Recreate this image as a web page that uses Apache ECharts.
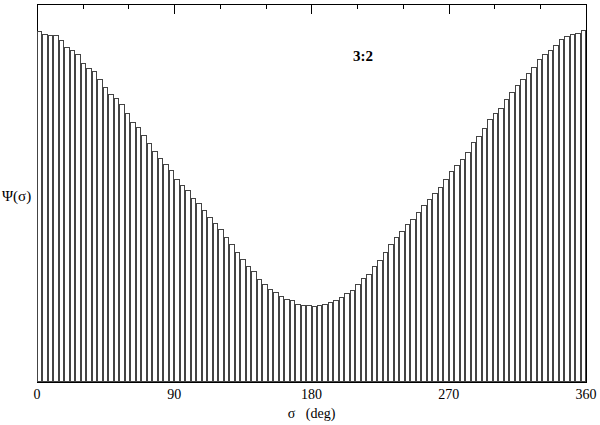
<!DOCTYPE html>
<html>
<head>
<meta charset="utf-8">
<script src="https://cdn.jsdelivr.net/npm/echarts@6/dist/echarts.min.js"></script>
<style>
  html, body { margin: 0; padding: 0; background: #fff; }
  #chart { width: 600px; height: 425px; }
  #chart svg path { shape-rendering: crispEdges; }
</style>
</head>
<body>
<div id="chart"></div>
<script>
// 100 bins of 3.6 deg over 0..360
const binWidth = 3.6
// Psi(sigma) per bin, arbitrary units
const psi = [
  357, 354, 353, 353, 347, 340, 337, 333, 324, 319,
  316, 308, 300, 293, 289, 282, 273, 264, 259, 251,
  243, 235, 228, 221, 215, 206, 200, 195, 187, 182,
  175, 168, 162, 155, 147, 140, 132, 125, 118, 113,
  105, 100, 95, 91, 87, 84, 83, 79, 78.5, 78,
  77.4, 78, 79, 81, 83, 86, 90, 94, 100, 106,
  110, 118, 124, 132, 140, 147, 153, 161, 166, 173,
  180, 186, 192, 198, 206, 214, 220, 227, 234, 244,
  250, 258, 267, 273, 278, 288, 295, 302, 308, 314,
  320, 328, 333, 337, 342, 348, 351, 354, 355, 358
]
const bins = psi.map((v, i) => (binWidth * (i + 0.5)).toFixed(1))
const xTicks = [0, 90, 180, 270, 360]

const chart = echarts.init(document.getElementById('chart'), null, { renderer: 'svg' })

const font = 'Liberation Serif, Times New Roman, serif'

const axisCommon = {
  type: 'value',
  min: xTicks[0],
  max: xTicks[xTicks.length - 1],
  interval: 90,
  axisLine: { lineStyle: { color: '#000', width: 1 } },
  axisTick: { inside: true, length: 10, lineStyle: { color: '#000' } },
  minorTick: { show: true, splitNumber: 3, length: 5, lineStyle: { color: '#000' } },
  splitLine: { show: false }
}

chart.setOption({
  animation: false,
  grid: {
    left: 37,
    right: 14,
    top: 4,
    bottom: 37,
    show: true,
    borderColor: '#000',
    borderWidth: 1
  },
  xAxis: [
    // hidden category axis carrying the bins
    {
      type: 'category',
      data: bins,
      position: 'bottom',
      show: false
    },
    Object.assign({}, axisCommon, {
      position: 'bottom',
      axisLabel: { color: '#000', fontFamily: font, fontSize: 14, margin: 5 },
      name: 'σ   (deg)',
      nameLocation: 'middle',
      nameGap: 22,
      nameTextStyle: { color: '#000', fontFamily: font, fontSize: 14 }
    }),
    Object.assign({}, axisCommon, {
      position: 'top',
      axisLabel: { show: false }
    })
  ],
  yAxis: {
    type: 'value',
    min: 0,
    max: 384,
    axisLine: { show: true, lineStyle: { color: '#000' } },
    axisTick: { show: false },
    axisLabel: { show: false },
    splitLine: { show: false }
  },
  graphic: [
    {
      type: 'text',
      left: 2,
      top: 188,
      style: { text: 'Ψ(σ)', fill: '#000', font: '15px ' + font }
    },
    {
      type: 'text',
      left: 353,
      top: 48,
      style: { text: '3:2', fill: '#000', font: 'bold 15px ' + font }
    }
  ],
  series: [{
    type: 'bar',
    xAxisIndex: 0,
    barCategoryGap: '0%',
    data: psi,
    itemStyle: { color: '#fff', borderColor: '#444', borderWidth: 1 }
  }]
})
</script>
</body>
</html>
